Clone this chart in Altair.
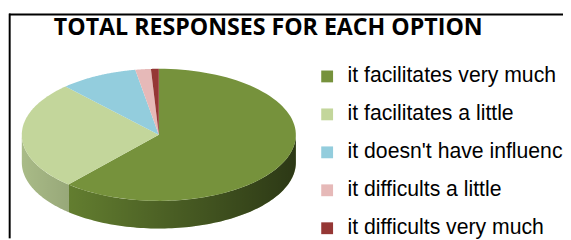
import altair as alt
import pandas as pd

# ---- data -------------------------------------------------------------
categories = [
    "it facilitates very much",
    "it facilitates a little",
    "it doesn't have influence",
    "it difficults a little",
    "it difficults very much",
]
counts = [67, 29, 10, 2, 1]
top_colors = ["#76923C", "#C3D69B", "#93CDDD", "#E6B9B8", "#953735"]
wall_colors = ["#6e8c35", "#a9bb87", "#7fb2bf", "#c9a09f", "#7a2c2a"]
title_text = "TOTAL RESPONSES FOR EACH OPTION"

# ---- layout constants (pixels inside the chart) ----------------------------
W, H = 563, 232
CX, CY, RX, RY, DEPTH = 153, 127, 139, 67, 28
N = 90

df = pd.DataFrame({"option": categories, "count": counts, "order": list(range(len(categories)))})

xs = alt.Scale(domain=[0, W], nice=False, zero=False)
ys = alt.Scale(domain=[0, H], nice=False, zero=False, reverse=True)

base = (
    alt.Chart(df)
    .transform_window(cum="sum(count)", sort=[alt.SortField("order")], frame=[None, 0])
    .transform_joinaggregate(total="sum(count)")
    .transform_calculate(
        a0="2*PI*(datum.cum - datum.count)/datum.total",
        a1="2*PI*datum.cum/datum.total",
    )
)

# top faces (filled polygons: apex + arc points)
top = (
    base.transform_calculate(idx=f"sequence(0, {N + 2})")
    .transform_flatten(["idx"])
    .transform_calculate(
        ang=f"datum.a0 + (datum.a1 - datum.a0) * (datum.idx - 1) / {N}",
    )
    .transform_calculate(
        px=f"datum.idx == 0 ? {CX} : {CX} + {RX} * sin(datum.ang)",
        py=f"datum.idx == 0 ? {CY} : {CY} - {RY} * cos(datum.ang)",
    )
    .mark_line(filled=True, interpolate="linear")
    .encode(
        x=alt.X("px:Q", scale=xs, axis=None),
        y=alt.Y("py:Q", scale=ys, axis=None),
        order=alt.Order("idx:Q"),
        color=alt.Color(
            "option:N",
            scale=alt.Scale(domain=categories, range=top_colors),
            legend=alt.Legend(
                orient="none",
                legendX=313,
                legendY=57,
                title=None,
                symbolType="square",
                symbolSize=144,
                symbolStrokeWidth=0,
                symbolOpacity=1,
                labelFont="Liberation Sans",
                labelFontSize=21.5,
                labelColor="black",
                labelOffset=10,
                labelLimit=400,
                rowPadding=15.5,
            ),
        ),
    )
)

# front walls
wall_data = (
    base.transform_calculate(w0="max(datum.a0, PI/2)", w1="min(datum.a1, 3*PI/2)")
    .transform_filter("datum.w1 > datum.w0")
    .transform_calculate(idx=f"sequence(0, {N + 1})")
    .transform_flatten(["idx"])
    .transform_calculate(ang=f"datum.w0 + (datum.w1 - datum.w0) * datum.idx / {N}")
    .transform_calculate(
        px=f"{CX} + {RX} * sin(datum.ang)",
        ptop=f"{CY} - {RY} * cos(datum.ang)",
    )
    .transform_calculate(pbot=f"datum.ptop + {DEPTH}")
)

walls = wall_data.mark_area().encode(
    x=alt.X("px:Q", scale=xs, axis=None),
    y=alt.Y("ptop:Q", scale=ys, axis=None),
    y2="pbot:Q",
    color=alt.Color(
        "option:N", scale=alt.Scale(domain=categories, range=wall_colors), legend=None
    ),
)

shade = wall_data.mark_area(
    color=alt.Gradient(
        gradient="linear",
        stops=[
            alt.GradientStop(color="rgba(0,0,0,0)", offset=0),
            alt.GradientStop(color="rgba(0,0,0,0.6)", offset=1),
        ],
        x1=0, x2=1, y1=0, y2=0,
    )
).encode(
    x=alt.X("px:Q", scale=xs, axis=None),
    y=alt.Y("ptop:Q", scale=ys, axis=None),
    y2="pbot:Q",
)

one = pd.DataFrame({"k": [0]})
border_top = alt.Chart(one).mark_rule(color="black", strokeWidth=2).encode(
    x=alt.value(1), x2=alt.value(W), y=alt.value(5)
)
border_left = alt.Chart(one).mark_rule(color="black", strokeWidth=2).encode(
    x=alt.value(1.7), y=alt.value(4), y2=alt.value(H)
)
title = alt.Chart(one).mark_text(
    text=title_text, font="Open Sans", fontWeight="bold", fontSize=23.5,
    align="center", baseline="alphabetic", color="black",
).encode(x=alt.value(264), y=alt.value(26))

chart = (
    alt.layer(walls, shade, top, border_top, border_left, title)
    .resolve_scale(color="independent")
    .properties(width=W, height=H, autosize=alt.AutoSizeParams(type="none"), padding=0)
    .configure_view(stroke=None)
)

chart.save("out.html", embed_options={"renderer": "svg", "actions": False})
